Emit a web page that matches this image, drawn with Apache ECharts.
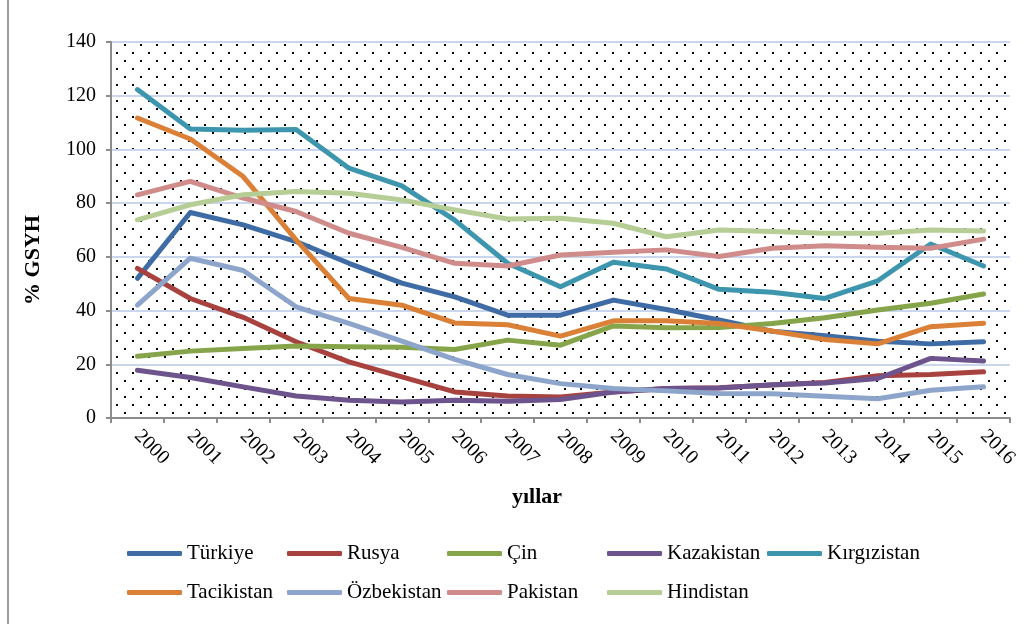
<!DOCTYPE html>
<html>
<head>
<meta charset="utf-8">
<script src="https://cdn.jsdelivr.net/npm/echarts@6/dist/echarts.min.js"></script>
<style>
html,body{margin:0;padding:0;background:#fff;}
#chart{width:1027px;height:624px;}
</style>
</head>
<body>
<div id="chart"></div>
<script>
// yıllar
var years = ['2000','2001','2002','2003','2004','2005','2006','2007','2008','2009','2010','2011','2012','2013','2014','2015','2016'];
var yTicks = [0,20,40,60,80,100,120,140];

// % GSYH
var turkiye     = [52.0, 76.5, 71.9, 65.7, 57.6, 50.2, 45.1, 38.3, 38.3, 43.9, 40.4, 36.5, 32.3, 30.6, 28.6, 27.6, 28.4];
var rusya       = [55.7, 44.5, 37.5, 28.4, 20.9, 15.3, 9.7, 8.2, 7.8, 9.7, 11.0, 11.3, 12.3, 13.2, 15.7, 16.2, 17.2];
var cin         = [23.0, 24.9, 25.9, 26.8, 26.5, 26.3, 25.5, 29.0, 27.1, 34.3, 33.6, 33.7, 35.2, 37.3, 40.2, 42.7, 46.2];
var kazakistan  = [17.8, 15.1, 11.6, 8.2, 6.6, 6.0, 6.6, 6.2, 6.9, 9.7, 11.0, 11.2, 12.4, 13.0, 14.7, 22.2, 21.2];
var kirgizistan = [122.3, 107.6, 107.1, 107.4, 93.0, 86.4, 73.7, 57.6, 48.9, 58.0, 55.5, 47.9, 46.8, 44.5, 51.1, 64.8, 56.6];
var tacikistan  = [111.7, 103.9, 89.9, 66.3, 44.5, 42.0, 35.4, 34.7, 30.5, 36.2, 36.2, 35.2, 32.4, 29.2, 27.6, 34.0, 35.3];
var ozbekistan  = [42.0, 59.5, 54.9, 41.4, 35.2, 28.6, 21.8, 16.2, 12.8, 11.0, 10.1, 9.1, 9.0, 8.1, 7.2, 10.3, 11.6];
var pakistan    = [83.1, 88.1, 81.9, 76.9, 68.8, 63.5, 57.6, 56.6, 60.7, 61.7, 62.6, 60.1, 63.2, 64.1, 63.6, 63.2, 66.6];
var hindistan   = [73.8, 79.4, 83.1, 84.3, 83.7, 81.2, 77.5, 74.1, 74.4, 72.5, 67.5, 70.0, 69.4, 68.8, 68.8, 70.0, 69.6];

var names  = ['Türkiye','Rusya','Çin','Kazakistan','Kırgızistan','Tacikistan','Özbekistan','Pakistan','Hindistan'];
var values = [turkiye, rusya, cin, kazakistan, kirgizistan, tacikistan, ozbekistan, pakistan, hindistan];
var colors = ['#3F6CA5','#A8423F','#86A44A','#6E548D','#3D96AE','#DA8137','#8EA5CB','#CF8C8B','#B7CD96'];

// noktali arka plan
var dot = document.createElement('canvas');
dot.width = 16; dot.height = 16;
var dctx = dot.getContext('2d');
dctx.fillStyle = '#fff';
dctx.fillRect(0, 0, 16, 16);
dctx.fillStyle = '#000';
dctx.fillRect(4, 4, 2, 2);
dctx.fillRect(12, 12, 2, 2);

var serif = "'Liberation Serif', 'DejaVu Serif', serif";

var chartDom = document.getElementById('chart');
var myChart = echarts.init(chartDom);

var legends = names.map(function (n, i) {
    return {
        data: [n],
        left: 127 + (i % 5) * 160,
        top: i < 5 ? 543 : 582,
        icon: 'roundRect',
        itemWidth: 55,
        itemHeight: 5,
        padding: 0,
        selectedMode: false,
        textStyle: { fontFamily: serif, fontSize: 21, color: '#000' }
    };
});

var option = {
    backgroundColor: '#fff',
    animation: false,
    color: colors,
    legend: legends,
    grid: {
        left: 111, right: 17, top: 42, bottom: 206,
        show: true,
        borderWidth: 0,
        backgroundColor: { image: dot, repeat: 'repeat' }
    },
    xAxis: {
        type: 'category',
        data: years,
        boundaryGap: true,
        axisLine: { lineStyle: { color: '#8c8c8c', width: 2 } },
        axisTick: { show: true, length: 5, lineStyle: { color: '#8c8c8c', width: 2 } },
        axisLabel: { rotate: -45, margin: 15, fontFamily: serif, fontSize: 20, color: '#000' },
        splitLine: { show: false }
    },
    yAxis: {
        type: 'value',
        min: yTicks[0],
        max: yTicks[yTicks.length - 1],
        interval: 20,
        axisLine: { show: true, lineStyle: { color: '#8c8c8c', width: 2 } },
        axisTick: { show: true, length: 5, lineStyle: { color: '#8c8c8c', width: 2 } },
        axisLabel: { margin: 15, fontFamily: serif, fontSize: 20, color: '#000' },
        splitLine: { lineStyle: { color: '#C9D6EE', width: 2 } }
    },
    graphic: [
        { type: 'line', shape: { x1: 8, y1: 0, x2: 8, y2: 624 }, style: { stroke: '#9a9a9a', lineWidth: 2 } },
        { type: 'text', x: 33, y: 260, rotation: Math.PI / 2,
          style: { text: '% GSYH', font: 'bold 22px ' + serif, fill: '#000', textAlign: 'center', textVerticalAlign: 'middle' } },
        { type: 'text', x: 537, y: 497,
          style: { text: 'yıllar', font: 'bold 22px ' + serif, fill: '#000', textAlign: 'center', textVerticalAlign: 'middle' } }
    ],
    series: names.map(function (n, i) {
        return {
            name: n,
            type: 'line',
            data: values[i],
            symbol: 'none',
            lineStyle: { width: 5, color: colors[i], cap: 'round', join: 'round' },
            itemStyle: { color: colors[i] }
        };
    })
};

myChart.setOption(option);

window.onresize = function () {
    myChart.resize();
};
</script>
</body>
</html>
